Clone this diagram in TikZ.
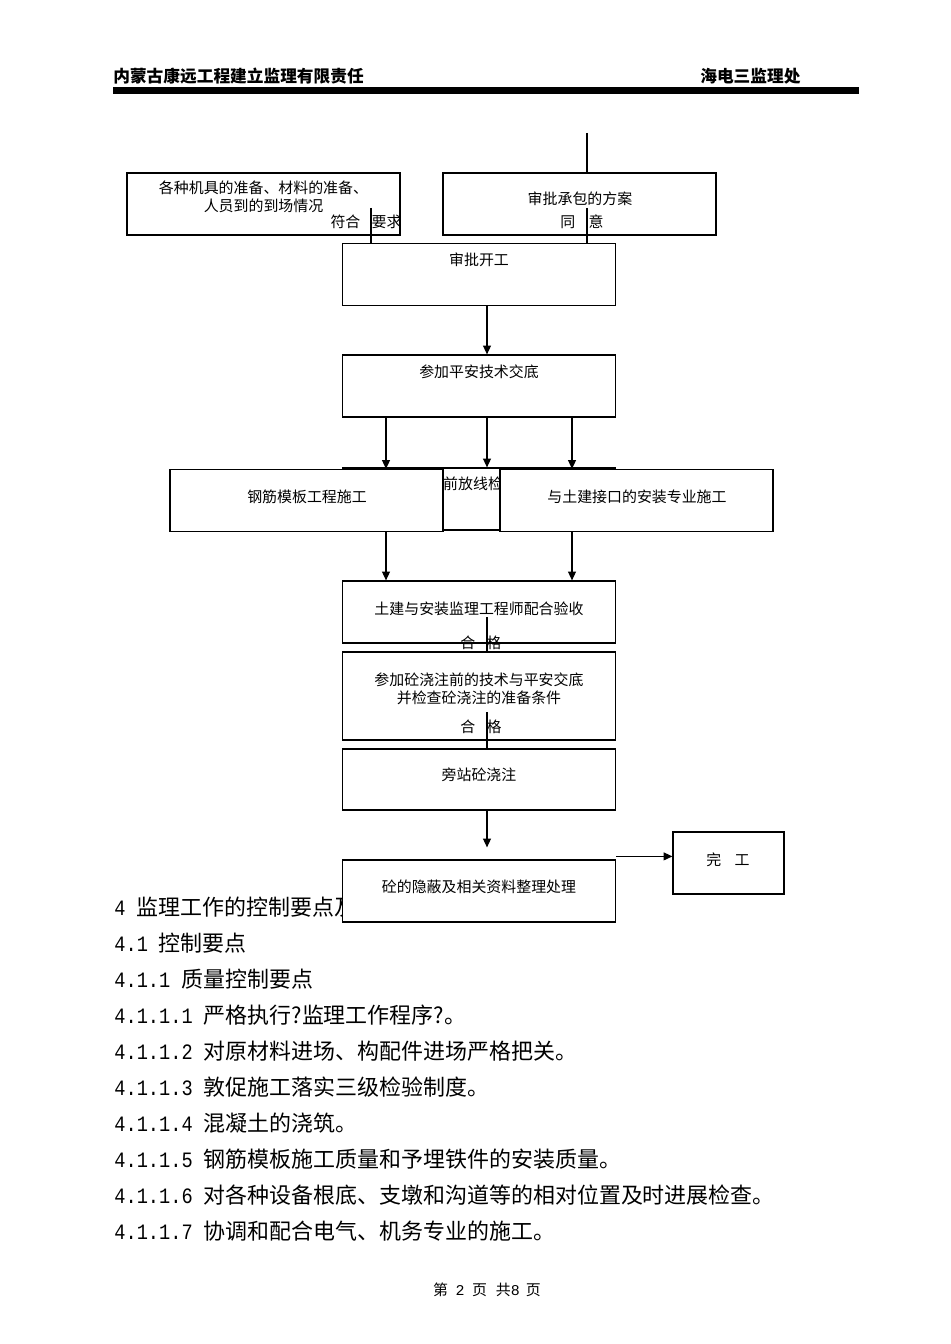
\documentclass[tikz,border=0pt]{standalone}
\usepackage{fontspec}
\usepackage{graphicx}
\setmainfont{Noto Sans CJK SC}
\newfontfamily\numfont{Liberation Mono}
\newcommand{\secno}[1]{\scalebox{0.85}[1]{\numfont\fontsize{12.5}{14}\selectfont #1}}
\usetikzlibrary{arrows.meta, positioning}

\tikzset{
  box/.style = {draw, fill=white, line width=0.7pt, inner sep=0pt,
                minimum width=5.46cm, minimum height=1.24cm},
  txt/.style = {inner sep=0pt, align=center, font=\fontsize{8.5}{10.2}\selectfont},
  body/.style = {inner sep=0pt, anchor=west, font=\fontsize{12.5}{14}\selectfont},
  head/.style = {inner sep=0pt, anchor=west, font=\fontsize{9.5}{11}\bfseries\selectfont},
  arr/.style = {line width=0.7pt, -{Triangle[length=5pt, width=4.5pt]}},
  link/.style = {line width=0.7pt}
}

\begin{document}
\begin{tikzpicture}[x=0.02cm, y=-0.02cm]
  \useasboundingbox (0,0) rectangle (950,1344);

  % header
  \node[head] (firm) at (113,76) {内蒙古康远工程建立监理有限责任};
  \node[head] (dept) at (700,76) {海电三监理处};
  \fill (113,87) rectangle (859,94);

  % body text
  \foreach \n/\t [count=\i] in {4/监理工作的控制要点及措施, 4.1/控制要点, 4.1.1/质量控制要点,
      4.1.1.1/严格执行?监理工作程序?。, 4.1.1.2/对原材料进场、构配件进场严格把关。,
      4.1.1.3/敦促施工落实三级检验制度。, 4.1.1.4/混凝土的浇筑。,
      4.1.1.5/钢筋模板施工质量和予埋铁件的安装质量。,
      4.1.1.6/对各种设备根底、支墩和沟道等的相对位置及时进展检查。,
      4.1.1.7/协调和配合电气、机务专业的施工。}
    \node[body] (p\i) at (114, {907+36*(\i-1)}) {\secno{\n}\hspace{0.5em}\t};
  \node[inner sep=0pt, font=\fontsize{8.5}{10}\selectfont] (foot) at (487,1290)
    {第\hspace{0.5em}{\numfont 2}\hspace{0.5em}页\hspace{0.6em}共{\numfont 8}\hspace{0.4em}页};

  % columns
  \coordinate (colL) at (386,0);
  \coordinate (colM) at (487,0);
  \coordinate (colR) at (572,0);

  % boxes
  \node[box] (prep) at (263.5,204) {};
  \node[txt] at (263.5,197) {各种机具的准备、材料的准备、\\人员到的到场情况};
  \node[txt] at (366,222) {符合\hspace{0.75em}要求};

  \coordinate (plan_in) at (587,133);
  \draw[link] (plan_in) -- (plan_in |- 0,173);
  \node[box] (plan) at (579.5,204) {};
  \node[txt] at (580,199) {审批承包的方案};
  \node[txt] at (582,222) {同\hspace{0.9em}意};

  \node[box] (start) at (479,274.5) {};
  \node[txt] at (479,260) {审批开工};
  \coordinate (ok_prep) at (371,208);
  \coordinate (ok_plan) at (587,208);
  \draw[link] (ok_prep) -- (ok_prep |- start.north);
  \draw[link] (ok_plan) -- (ok_plan |- start.north);

  \node[box] (brief) at (479,386) {};
  \node[txt] at (479,372) {参加平安技术交底};
  \draw[arr] (start.south -| colM) -- (brief.north -| colM);

  \node[box] (survey) at (479,499) {};
  \node[txt, anchor=west] at (413,484) {施工前放线检查};
  \node[box] (rebar) at (306.5,500.5) {};
  \node[txt] at (307,497) {钢筋模板工程施工};
  \node[box] (install) at (636.5,500.5) {};
  \node[txt] at (637,497) {与土建接口的安装专业施工};
  \draw[arr] (brief.south -| colL) -- (rebar.north -| colL);
  \draw[arr] (brief.south -| colM) -- (survey.north -| colM);
  \draw[arr] (brief.south -| colR) -- (install.north -| colR);

  \node[box] (accept) at (479,612) {};
  \node[txt] at (479,609) {土建与安装监理工程师配合验收};
  \draw[arr] (rebar.south -| colL) -- (accept.north -| colL);
  \draw[arr] (install.south -| colR) -- (accept.north -| colR);

  \node[box, minimum height=1.76cm] (check) at (479,696) {};
  \node[txt] at (479,688.5) {参加砼浇注前的技术与平安交底\\并检查砼浇注的准备条件};
  \coordinate (pass1) at (487,617);
  \draw[link] (pass1) -- (pass1 |- check.north);
  \node[txt] at (481,643) {合\hspace{0.75em}格};
  \node[txt] at (481,727) {合\hspace{0.75em}格};

  \node[box, minimum height=1.22cm] (pour) at (479,779.5) {};
  \node[txt] at (479,775) {旁站砼浇注};
  \coordinate (pass2) at (487,712);
  \draw[link] (pass2) -- (pass2 |- pour.north);

  \node[box] (records) at (479,891) {};
  \node[txt] at (479,887) {砼的隐蔽及相关资料整理处理};
  \draw[arr, shorten >=0.24cm] (pour.south -| colM) -- (records.north -| colM);

  \node[box, minimum width=2.22cm] (done) at (728.5,863) {};
  \node[txt] at (728,860) {完\hspace{0.9em}工};
  \draw[arr] ([yshift=0.06cm]records.north east) -- ([yshift=0.06cm]records.north east -| done.west);
\end{tikzpicture}
\end{document}
